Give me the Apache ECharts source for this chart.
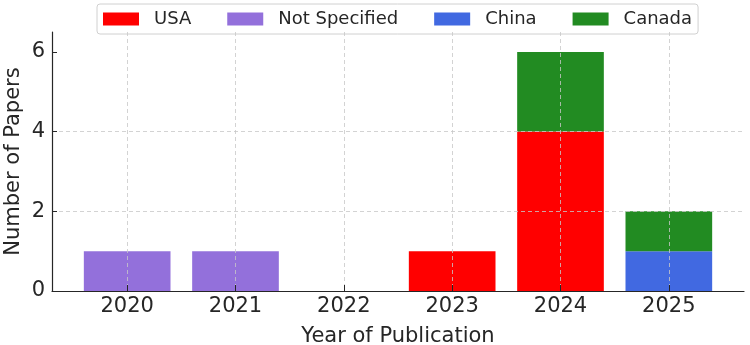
<!DOCTYPE html>
<html>
<head>
    <meta charset="utf-8">
    <title>Papers per year</title>
    <script src="https://cdn.jsdelivr.net/npm/echarts@6/dist/echarts.min.js"></script>
    <style>
        html, body { margin: 0; padding: 0; background: #fff; }
        #chart { width: 750px; height: 345px; }
    </style>
</head>
<body>
<div id="chart"></div>
<script>
    // data
    var years = ['2020', '2021', '2022', '2023', '2024', '2025'];
    var usa = [0, 0, 0, 1, 4, 0];
    var notSpecified = [1, 1, 0, 0, 0, 0];
    var china = [0, 0, 0, 0, 0, 1];
    var canada = [0, 0, 0, 0, 2, 1];
    var yTicks = [0, 2, 4, 6];

    var font = 'DejaVu Sans';
    var ink = '#262626';
    var gridLine = { show: true, lineStyle: { color: '#c8c8c8', type: [4, 3], width: 0.8 } };

    function bar(name, data, color) {
        return {
            name: name,
            type: 'bar',
            stack: 'total',
            xAxisIndex: 1,
            yAxisIndex: 1,
            barWidth: '80%',
            itemStyle: { color: color },
            emphasis: { disabled: true },
            data: data
        };
    }

    var chart = echarts.init(document.getElementById('chart'));
    chart.setOption({
        animation: false,
        textStyle: { fontFamily: font },
        legend: {
            left: 97,
            top: 4,
            padding: [6, 6],
            itemWidth: 36,
            itemHeight: 13,
            itemGap: 36,
            icon: 'rect',
            borderColor: '#d0d0d0',
            borderWidth: 1,
            borderRadius: 3,
            backgroundColor: 'rgba(255,255,255,0.85)',
            textStyle: { fontFamily: font, fontSize: 18, color: ink, padding: [0, 0, 0, 10] },
            data: ['USA', 'Not Specified', 'China', 'Canada']
        },
        grid: [
            // full frame: spines and horizontal grid
            { left: 52, right: 6, top: 32, bottom: 54, outerBoundsMode: 'none', containLabel: false },
            // bars, inset so the categories sit like the original
            { left: 73, right: 27, top: 32, bottom: 54, outerBoundsMode: 'none', containLabel: false }
        ],
        xAxis: [
            {
                type: 'value', gridIndex: 0, min: 0, max: 1, z: 10,
                axisLine: { show: true, lineStyle: { color: ink, width: 1.2 } },
                axisTick: { show: false }, axisLabel: { show: false }, splitLine: { show: false }
            },
            {
                type: 'category', gridIndex: 1, data: years, z: 10,
                name: 'Year of Publication', nameLocation: 'middle', nameGap: 35, nameMoveOverlap: false,
                nameTextStyle: { fontFamily: font, fontSize: 21, color: ink },
                axisLine: { show: false },
                axisTick: { show: true, inside: true, alignWithLabel: true, length: 6, lineStyle: { color: ink } },
                axisLabel: { fontFamily: font, fontSize: 21, color: ink, margin: 5 },
                splitLine: { show: true, alignWithLabel: true, lineStyle: gridLine.lineStyle }
            }
        ],
        yAxis: [
            {
                type: 'value', gridIndex: 0, min: 0, max: 6.5, interval: 2, z: 10,
                name: 'Number of Papers', nameLocation: 'middle', nameGap: 28, nameMoveOverlap: false,
                nameTextStyle: { fontFamily: font, fontSize: 21, color: ink },
                axisLine: { show: true, lineStyle: { color: ink, width: 1.2 } },
                axisTick: { show: true, inside: true, length: 5, customValues: yTicks, lineStyle: { color: ink } },
                axisLabel: { fontFamily: font, fontSize: 21, color: ink, margin: 7, customValues: yTicks },
                splitLine: { show: true, showMaxLine: false, lineStyle: gridLine.lineStyle }
            },
            {
                type: 'value', gridIndex: 1, min: 0, max: 6.5, show: false
            }
        ],
        series: [
            bar('USA', usa, '#ff0000'),
            bar('Not Specified', notSpecified, '#9370db'),
            bar('China', china, '#4169e1'),
            bar('Canada', canada, '#228b22')
        ]
    });
</script>
</body>
</html>
